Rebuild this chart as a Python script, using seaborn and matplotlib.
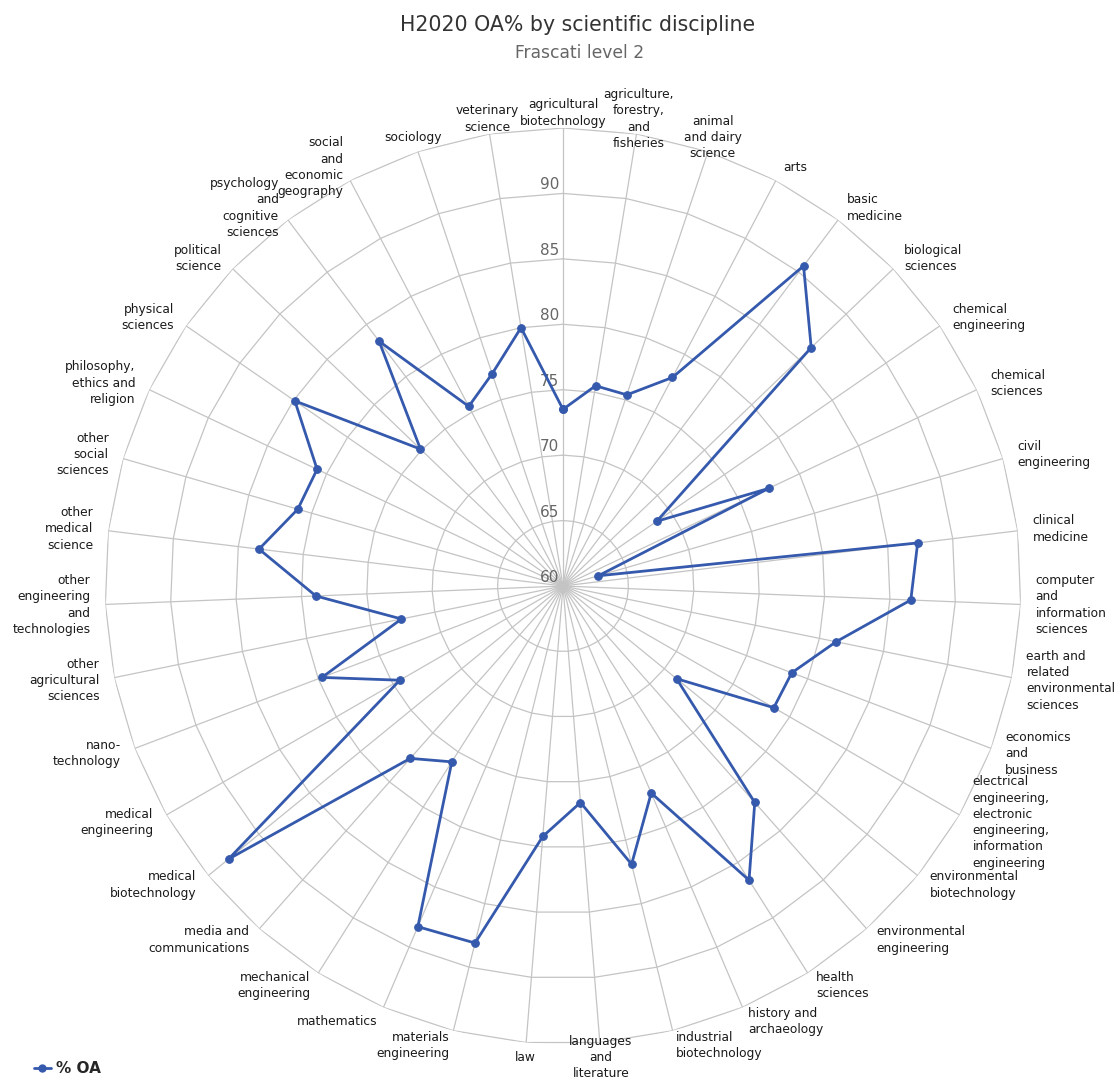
import numpy as np
import pandas as pd
import seaborn as sns
import matplotlib.pyplot as plt
from matplotlib.lines import Line2D

sns.set_theme(style="white")
plt.rcParams['font.family'] = ['DejaVu Sans']

# disciplines (clockwise from top) and OA share in %
disciplines = [
    "agricultural\nbiotechnology", "agriculture,\nforestry,\nand\nfisheries",
    "animal\nand dairy\nscience", "arts", "basic\nmedicine", "biological\nsciences",
    "chemical\nengineering", "chemical\nsciences", "civil\nengineering",
    "clinical\nmedicine", "computer\nand\ninformation\nsciences",
    "earth and\nrelated\nenvironmental\nsciences", "economics\nand\nbusiness",
    "electrical\nengineering,\nelectronic\nengineering,\ninformation\nengineering",
    "environmental\nbiotechnology", "environmental\nengineering", "health\nsciences",
    "history and\narchaeology", "industrial\nbiotechnology", "languages\nand\nliterature",
    "law", "materials\nengineering", "mathematics", "mechanical\nengineering",
    "media and\ncommunications", "medical\nbiotechnology", "medical\nengineering",
    "nano-\ntechnology", "other\nagricultural\nsciences",
    "other\nengineering\nand\ntechnologies", "other\nmedical\nscience",
    "other\nsocial\nsciences", "philosophy,\nethics and\nreligion",
    "physical\nsciences", "political\nscience", "psychology\nand\ncognitive\nsciences",
    "social\nand\neconomic\ngeography", "sociology", "veterinary\nscience",
]
oa_pct = [
    73.5, 75.5, 75.4, 78.0, 90.6, 86.3, 68.7, 77.4, 62.8, 87.3,
    86.6, 81.3, 78.7, 78.6, 71.2, 82.1, 86.6, 77.2, 81.9, 76.6,
    79.2, 88.1, 88.3, 75.9, 77.6, 93.0, 74.4, 79.7, 72.6, 78.9,
    83.4, 81.1, 80.8, 84.9, 75.1, 83.4, 75.5, 77.1, 80.0,
]
r_ticks = [60, 65, 70, 75, 80, 85, 90]
r_min, r_max = 60, 95

n = len(disciplines)
angles = np.arange(n) * 2 * np.pi / n

df = pd.DataFrame({"theta": np.append(angles, 2 * np.pi),
                   "oa": oa_pct + [oa_pct[0]]})

W, H = 1116, 1079
fig = plt.figure(figsize=(W / 100, H / 100), dpi=100)
cx, cy, rad = 563, 586, 458
ax = fig.add_axes([(cx - rad) / W, (H - cy - rad) / H, 2 * rad / W, 2 * rad / H],
                  projection="polar")
ax.set_theta_zero_location("N")
ax.set_theta_direction(-1)
ax.set_ylim(r_min, r_max)
ax.spines["polar"].set_visible(False)
ax.set_facecolor("white")

grid_c = "#c4c4c4"
# spokes
ax.set_xticks(angles)
ax.set_xticklabels([])
ax.xaxis.grid(True, color=grid_c, lw=0.9)
ax.set_yticks([])
ax.yaxis.grid(False)
# polygon rings
ring_t = np.append(angles, 0)
for lev in list(range(65, 96, 5)):
    ax.plot(ring_t, [lev] * len(ring_t), color=grid_c, lw=0.9, zorder=1)

line_c = "#3559ac"
sns.lineplot(data=df, x="theta", y="oa", sort=False, ax=ax, color=line_c,
             lw=2.0, marker="o", markersize=5.5, markeredgecolor=line_c,
             zorder=3, legend=False)
ax.set_xlabel("")
ax.set_ylabel("")

# radial value labels
for t in r_ticks:
    ax.annotate(str(t), xy=(0, t), xytext=(-4, 1), textcoords="offset pixels",
                ha="right", va="bottom", fontsize=11, color="#666666", zorder=2)

# category labels
for a, lab in zip(angles, disciplines):
    deg = np.degrees(a)
    if deg < 20 or deg > 340 or abs(deg - 180) < 10:
        ha = "center"
    elif deg < 180:
        ha = "left"
    else:
        ha = "right"
    ax.annotate(lab, xy=(a, r_max), xytext=(15 * np.sin(a), 15 * np.cos(a)),
                textcoords="offset pixels", ha=ha, va="center", multialignment=ha,
                fontsize=8.8, color="#1a1a1a", linespacing=1.33,
                annotation_clip=False)

fig.text(578 / W, 1 - 25 / H, "H2020 OA% by scientific discipline", ha="center",
         va="center", fontsize=14.8, color="#333333")
fig.text(580 / W, 1 - 53 / H, "Frascati level 2", ha="center", va="center",
         fontsize=12.3, color="#666666")

handle = Line2D([], [], color=line_c, lw=2, marker="o", markersize=5)
fig.legend([handle], ["% OA"], loc="lower left", bbox_to_anchor=(0.018, -0.01),
           frameon=False, handlelength=1.1, handletextpad=0.35,
           prop={"weight": "bold", "size": 11})

fig.savefig("out.png", dpi=100, facecolor="white")
